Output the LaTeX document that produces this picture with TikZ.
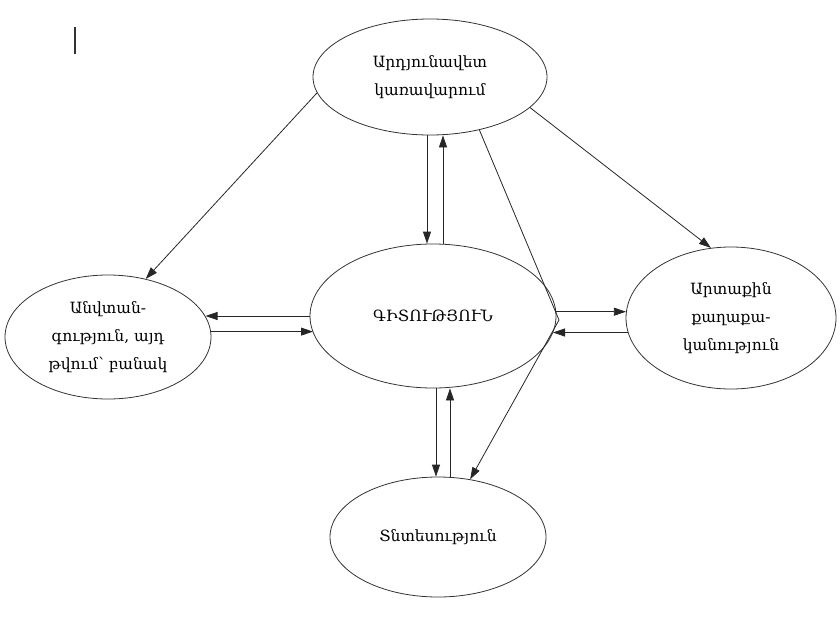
\documentclass[tikz,border=0pt]{standalone}
\usepackage{fontspec}
\setmainfont{DejaVu Serif}
\usetikzlibrary{shapes.geometric,arrows.meta}

\begin{document}
\begin{tikzpicture}
[lineDecorate/.style={-{Triangle[length=12pt,width=8pt]},line width=0.8pt,black!85},%
  nodeDecorate/.style={shape=ellipse,draw=black!80,line width=0.8pt,inner sep=0pt,%
    align=center,font=\fontsize{15.5}{28}\selectfont},%
  x=1pt,y=-1pt]
\useasboundingbox (0,0) rectangle (840,616);
%% nodes or vertices
\foreach \nodename/\x/\y/\w/\h/\txt in {
  karav/430/77/234/116/{Արդյունավետ\\կառավարում},
  anvt/108/337/206/124/{Անվտան-\\գություն, այդ\\թվում՝ բանակ},
  gitut/433/316/246/144/{ԳԻՏՈՒԹՅՈՒՆ},
  artaq/731/318/210/142/{Արտաքին\\քաղաքա-\\կանություն},
  tntes/438/537/216/120/{Տնտեսություն}}
{
  \node (\nodename) at (\x,\y) [nodeDecorate,minimum width=\w,minimum height=\h] {\txt};
}
\coordinate (kink) at (559,320);
%% edges or lines
\path
\foreach \startnode/\sx/\endnode/\ex in {
  karav.188/0/anvt.57/0, karav.-17/0/artaq.106/0,
  karav.south/-3/gitut.north/-6, gitut.north/10/karav.south/13,
  gitut.west/0/{anvt.12 |- gitut.west}/0, anvt.3/0/{anvt.3 -| gitut.188}/0,
  gitut.2/0/{gitut.2 -| artaq.177}/0, artaq.188/0/{artaq.188 -| gitut.-8}/0,
  gitut.south/3/tntes.north/-2, tntes.north/12/gitut.south/17}
{
  ([xshift=\sx]\startnode) edge[lineDecorate] ([xshift=\ex]\endnode)
};
\draw[lineDecorate] (karav.-47) -- (kink) -- (tntes);
%% cursor mark
\draw[line width=2.5pt,black!80] (75,27) -- (75,54);
\end{tikzpicture}
\end{document}
